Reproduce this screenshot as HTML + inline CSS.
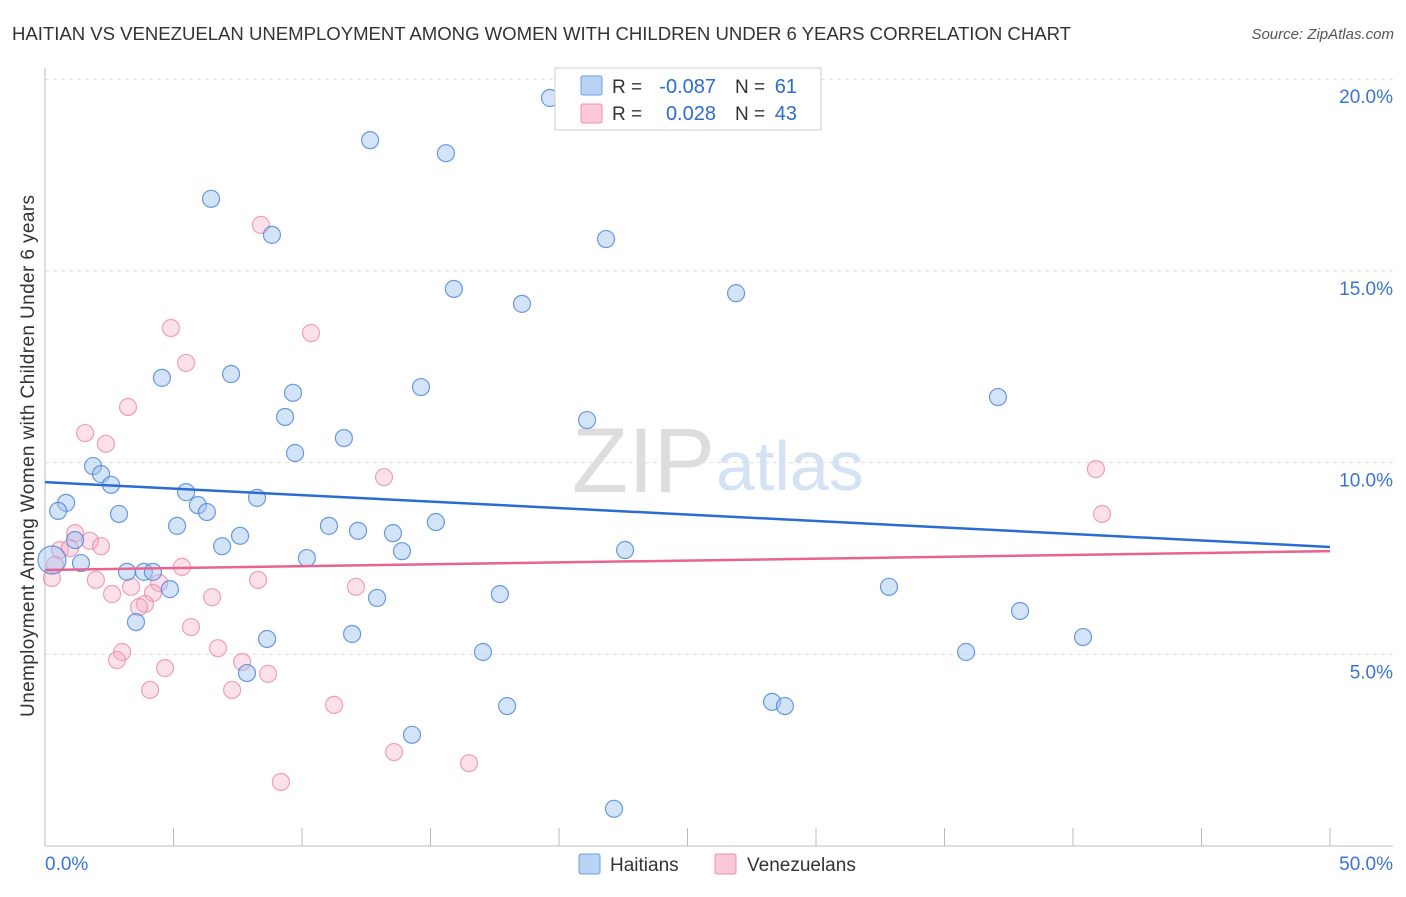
<!DOCTYPE html>
<html><head><meta charset="utf-8"><style>
body{margin:0;background:#fff;font-family:"Liberation Sans",sans-serif}
svg text{font-family:"Liberation Sans",sans-serif}
</style></head><body>
<svg id="c" width="1406" height="892" xmlns="http://www.w3.org/2000/svg">
<text x="12" y="40" font-size="18.6" fill="#333" textLength="1059">HAITIAN VS VENEZUELAN UNEMPLOYMENT AMONG WOMEN WITH CHILDREN UNDER 6 YEARS CORRELATION CHART</text>
<text x="1394" y="39" font-size="15" fill="#555" font-style="italic" text-anchor="end">Source: ZipAtlas.com</text>
<text x="715" y="492" font-size="92" fill="#ddd" text-anchor="end" font-family="Liberation Serif">ZIP</text>
<text x="716" y="490" font-size="70" fill="#d5e2f3">atlas</text>
<text transform="translate(34,456) rotate(-90)" font-size="19" fill="#333" text-anchor="middle" textLength="522">Unemployment Among Women with Children Under 6 years</text>
<g id="grid"></g><g id="pts"></g><g id="lines"></g>
<g>
<rect x="555" y="68" width="266" height="62" fill="#fff" stroke="#ccc"/>
<rect x="581" y="76" width="21" height="19" fill="#b9d3f3" stroke="#6d9de0" rx="2"/>
<rect x="581" y="104" width="21" height="19" fill="#fbc8d7" stroke="#ec8fab" rx="2"/>
<text x="612" y="93" font-size="19" fill="#333">R =</text>
<text x="716" y="93" font-size="20" fill="#2a6cd2" text-anchor="end">-0.087</text>
<text x="735" y="93" font-size="19" fill="#333">N =</text>
<text x="797" y="93" font-size="20" fill="#2a6cd2" text-anchor="end">61</text>
<text x="612" y="120" font-size="19" fill="#333">R =</text>
<text x="716" y="120" font-size="20" fill="#2a6cd2" text-anchor="end">0.028</text>
<text x="735" y="120" font-size="19" fill="#333">N =</text>
<text x="797" y="120" font-size="20" fill="#2a6cd2" text-anchor="end">43</text>
</g>
<g>
<rect x="579" y="854" width="21" height="20" fill="#b9d3f3" stroke="#6d9de0" rx="2"/>
<text x="610" y="871" font-size="19" fill="#333">Haitians</text>
<rect x="715" y="854" width="21" height="20" fill="#fbc8d7" stroke="#ec8fab" rx="2"/>
<text x="747" y="871" font-size="19" fill="#333">Venezuelans</text>
</g>
</svg>
<script>
const xTicks=[0,5,10,15,20,25,30,35,40,45,50];
const yTicks=[5,10,15,20];
const haitX=[19.65,12.65,15.6,6.46,8.83,21.83,15.91,18.56,26.89,4.55,7.24,9.65,14.63,9.34,21.09,37.08,11.63,9.73,1.87,2.18,2.57,0.82,0.51,2.88,5.49,5.95,6.3,8.25,5.14,7.59,6.89,11.05,12.18,13.54,15.21,13.89,10.19,22.57,1.17,1.4,0.27,3.19,3.85,4.2,4.86,3.54,12.92,17.7,32.84,37.94,8.64,11.95,17.04,35.84,40.39,7.86,28.29,28.79,17.98,14.28,22.14];
const haitY=[19.51,18.41,18.07,16.88,15.94,15.83,14.53,14.14,14.42,12.21,12.31,11.82,11.97,11.19,11.11,11.71,10.64,10.25,9.91,9.7,9.42,8.95,8.74,8.66,9.23,8.89,8.71,9.08,8.35,8.09,7.82,8.35,8.22,8.16,8.45,7.69,7.51,7.72,7.98,7.38,7.46,7.15,7.15,7.15,6.7,5.84,6.47,6.57,6.76,6.13,5.4,5.53,5.06,5.06,5.45,4.51,3.76,3.65,3.65,2.9,0.97];
const venX=[8.4,4.9,10.35,5.49,3.23,1.56,2.37,13.19,40.89,41.13,1.17,1.75,2.18,0.58,0.97,0.39,0.27,1.98,5.33,8.29,4.44,3.35,2.61,12.1,6.5,4.2,3.89,3.66,5.68,3.0,2.8,6.73,7.67,8.68,4.67,4.09,7.28,11.25,13.58,16.5,9.18];
const venY=[16.2,13.51,13.38,12.6,11.45,10.77,10.49,9.62,9.83,8.66,8.16,7.96,7.82,7.72,7.77,7.33,6.99,6.94,7.28,6.94,6.86,6.76,6.57,6.76,6.49,6.6,6.31,6.23,5.71,5.06,4.85,5.16,4.8,4.49,4.64,4.07,4.07,3.68,2.45,2.16,1.67];
const haitTrend=[9.49,7.8];
const venTrend=[7.2,7.69];
const NS='http://www.w3.org/2000/svg';
const sx=v=>45+v*25.7, sy=v=>846-v*38.34;
function mk(t,a,p){const e=document.createElementNS(NS,t);for(const k in a)e.setAttribute(k,a[k]);p.appendChild(e);return e;}
const g=document.getElementById('grid');
yTicks.forEach(v=>{
 const l=mk('line',{x1:45,x2:1393,y1:sy(v),y2:sy(v),stroke:'#ddd','stroke-dasharray':'4,4'},g);
 
 
 const t=mk('text',{x:1393,y:sy(v)+24,'font-size':19,fill:'#3a74d4','text-anchor':'end'},g);t.textContent=v.toFixed(1)+'%';
 
 
});
mk('line',{x1:45,x2:45,y1:68,y2:846,stroke:'#bbb'},g);
mk('line',{x1:45,x2:1393,y1:846,y2:846,stroke:'#bbb'},g);
xTicks.forEach(v=>{const l=mk('line',{x1:sx(v),x2:sx(v),y1:828,y2:846,stroke:'#bbb'},g);
 
 });
[[0,'0.0%',45,'start'],[50,'50.0%',1393,'end']].forEach(([v,s,x,a])=>{const t=mk('text',{x:x,y:870,'font-size':19,fill:'#3a74d4','text-anchor':a},g);t.textContent=s;
 
 });
const p=document.getElementById('pts');
venX.forEach((x,i)=>{const c=mk('circle',{cx:sx(x),cy:sy(venY[i]),r:8.5,fill:'rgba(246,170,195,0.35)',stroke:'rgba(236,130,165,0.75)','stroke-width':1.2},p);
 
 });
haitX.forEach((x,i)=>{const c=mk('circle',{cx:sx(x),cy:sy(haitY[i]),r:i===40?14:8.5,fill:'rgba(160,195,240,0.45)',stroke:'rgba(70,130,215,0.8)','stroke-width':1.2},p);
 
 });
const L=document.getElementById('lines');
const b=mk('line',{x1:sx(0),x2:sx(50),y1:sy(haitTrend[0]),y2:sy(haitTrend[1]),stroke:'#2a6cd2','stroke-width':2.5},L);


const r=mk('line',{x1:sx(0),x2:sx(50),y1:sy(venTrend[0]),y2:sy(venTrend[1]),stroke:'#e8648f','stroke-width':2.5},L);


</script>
</body></html>
